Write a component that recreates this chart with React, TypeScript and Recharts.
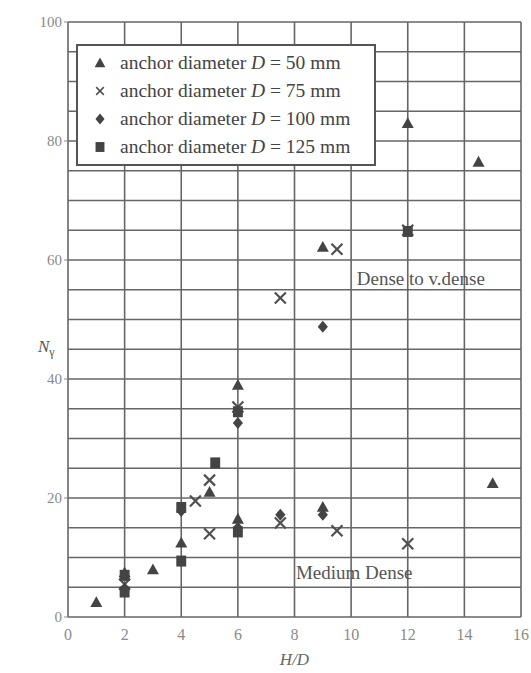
import {
  ScatterChart,
  Scatter,
  XAxis,
  YAxis,
  CartesianGrid,
  Legend,
  ReferenceDot,
  Label,
} from "recharts";

// H/D, N_gamma pairs
const D50: [number, number][] = [
  [1, 2.5], [2, 7.5], [3, 8], [4, 12.5], [5, 21], [6, 39], [6, 16.5],
  [9, 62.2], [9, 18.5], [12, 83], [14.5, 76.5], [15, 22.5],
];
const D75: [number, number][] = [
  [2, 5.5], [4.5, 19.5], [5, 23], [5, 14], [6, 35.3], [7.5, 53.6],
  [7.5, 15.8], [9.5, 61.8], [9.5, 14.5], [12, 12.3], [12, 65],
];
const D100: [number, number][] = [
  [2, 4.8], [4, 17.8], [6, 32.6], [6, 15], [7.5, 17.2], [9, 48.8], [9, 17.2],
];
const D125: [number, number][] = [
  [2, 4.2], [2, 7], [4, 18.4], [4, 9.4], [5.2, 25.9], [6, 14.3], [6, 34.5], [12, 64.8],
];

const X_TICKS = [0, 2, 4, 6, 8, 10, 12, 14, 16];
const Y_TICKS = [0, 20, 40, 60, 80, 100];
const Y_GRID = Array.from({ length: 21 }, (_, i) => i * 5);

const SERIES = [
  { name: "50", data: D50, shape: "tri" },
  { name: "75", data: D75, shape: "cross" },
  { name: "100", data: D100, shape: "diamond" },
  { name: "125", data: D125, shape: "square" },
];

const FONT = "'Liberation Serif', 'DejaVu Serif', serif";
const INK = "#444";
const GRID = "#666";
const TICK = "#8a8a8a";

function Marker({ kind, cx, cy, s = 1 }: { kind: string; cx: number; cy: number; s?: number }) {
  if (kind === "tri") {
    const h = 6 * s;
    return <polygon points={`${cx},${cy - h} ${cx - h},${cy + h * 0.8} ${cx + h},${cy + h * 0.8}`} fill={INK} />;
  }
  if (kind === "cross") {
    const h = 5.5 * s;
    return (
      <g stroke={"#505050"} strokeWidth={2.2 * s}>
        <line x1={cx - h} y1={cy - h} x2={cx + h} y2={cy + h} />
        <line x1={cx - h} y1={cy + h} x2={cx + h} y2={cy - h} />
      </g>
    );
  }
  if (kind === "diamond") {
    const h = 6 * s;
    return <polygon points={`${cx},${cy - h} ${cx + h * 0.85},${cy} ${cx},${cy + h} ${cx - h * 0.85},${cy}`} fill={INK} />;
  }
  const h = 5.5 * s;
  return <rect x={cx - h * 0.9} y={cy - h} width={h * 1.8} height={h * 2} fill={INK} />;
}

function LegendBox() {
  return (
    <div
      style={{
        border: "2px solid #555",
        background: "#fff",
        padding: "3px 0 3px 0",
        width: 300,
        fontFamily: FONT,
        fontSize: 19.5,
        color: "#444",
        textAlign: "left",
        boxSizing: "border-box",
      }}
    >
      {SERIES.map((s) => (
        <div key={s.name} style={{ display: "flex", alignItems: "center", height: 28, whiteSpace: "nowrap" }}>
          <svg width={42} height={20}>
            <Marker kind={s.shape} cx={22} cy={10} s={s.shape === "cross" ? 0.7 : 0.9} />
          </svg>
          <span>
            anchor diameter <i>D</i> = {s.name} mm
          </span>
        </div>
      ))}
    </div>
  );
}

export default function App() {
  return (
    <div style={{ position: "absolute", left: 0, top: 0, background: "#fff" }}>
      <ScatterChart
        width={531}
        height={673}
        margin={{ top: 22, right: 10, bottom: 16, left: 0 }}
        style={{ fontFamily: FONT }}
      >
        <CartesianGrid
          stroke={GRID}
          strokeWidth={1.6}
          horizontalValues={Y_GRID}
          verticalValues={X_TICKS}
        />
        <XAxis
          type="number"
          dataKey="x"
          domain={[0, 16]}
          ticks={X_TICKS}
          axisLine={false}
          tickLine={false}
          height={40}
          tick={{ fill: TICK, fontSize: 16, fontFamily: FONT }}
          tickMargin={6}
        >
          <Label
            value="H/D"
            position="insideBottom"
            offset={-8}
            style={{ fill: "#666", fontStyle: "italic", fontSize: 17, fontFamily: FONT }}
          />
        </XAxis>
        <YAxis
          type="number"
          dataKey="y"
          domain={[0, 100]}
          ticks={Y_TICKS}
          axisLine={false}
          tickLine={{ stroke: TICK }}
          tickSize={4}
          width={68}
          tick={{ fill: TICK, fontSize: 15, fontFamily: FONT }}
          label={{
            content: () => (
              <text x={38} y={352} fill="#555" fontFamily={FONT} fontSize={17}>
                <tspan fontStyle="italic">N</tspan>
                <tspan fontSize={12} dy={4}>γ</tspan>
              </text>
            ),
          }}
        />
        <Legend
          layout="horizontal"
          verticalAlign="middle"
          align="center"
          wrapperStyle={{ position: "absolute", left: 76, top: 44, width: 300, height: 120 }}
          content={() => <LegendBox />}
        />
        {SERIES.map((s) => (
          <Scatter
            key={s.name}
            name={s.name}
            data={s.data.map(([x, y]) => ({ x, y }))}
            isAnimationActive={false}
            shape={(p: any) => <Marker kind={s.shape} cx={p.cx} cy={p.cy} />}
          />
        ))}
        <ReferenceDot
          x={10.2}
          y={57}
          r={0}
          fill="none"
          stroke="none"
          label={{ value: "Dense to v.dense", position: "right", offset: 0, fill: "#555", fontSize: 19, fontFamily: FONT }}
        />
        <ReferenceDot
          x={8.05}
          y={7.5}
          r={0}
          fill="none"
          stroke="none"
          label={{ value: "Medium Dense", position: "right", offset: 0, fill: "#555", fontSize: 19, fontFamily: FONT }}
        />
      </ScatterChart>
    </div>
  );
}
